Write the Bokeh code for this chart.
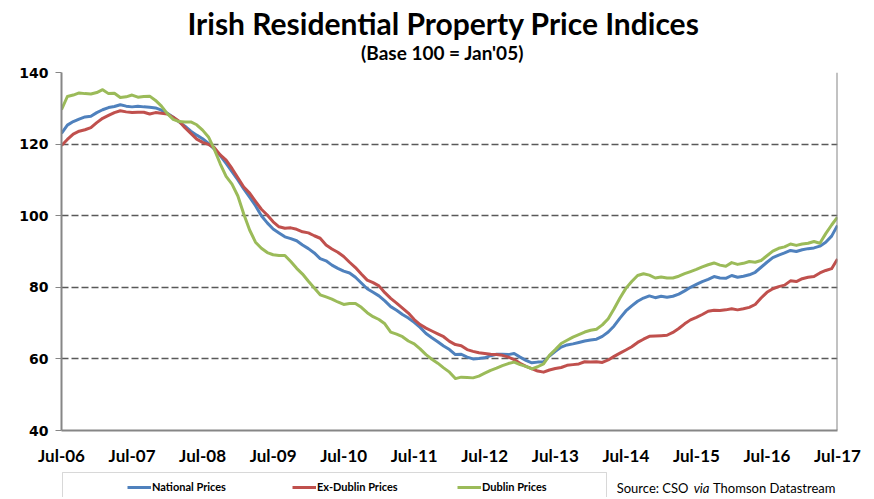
from bokeh.plotting import figure
from bokeh.layouts import column
from bokeh.models import (Range1d, FixedTicker, Label, Legend, LegendItem, Span,
                          BoxAnnotation)
from bokeh.embed import file_html
from bokeh.resources import INLINE

# Monthly index values, Jul-06 (month 0) to Jul-17 (month 132)
months = list(range(133))
x_ticks = [0, 12, 24, 36, 48, 60, 72, 84, 96, 108, 120, 132]
x_tick_labels = ["Jul-06", "Jul-07", "Jul-08", "Jul-09", "Jul-10", "Jul-11",
                 "Jul-12", "Jul-13", "Jul-14", "Jul-15", "Jul-16", "Jul-17"]
y_ticks = [40, 60, 80, 100, 120, 140]

national = [
    123.0, 125.3, 126.3, 127.0, 127.6, 127.8, 128.8, 129.6, 130.2, 130.5, 131.0, 130.6,
    130.4, 130.6, 130.4, 130.3, 130.1, 129.5, 128.6, 127.5, 126.2, 125.0, 123.6, 122.5,
    121.5, 120.2, 118.6, 116.8, 114.6, 112.3, 110.0, 107.5, 105.2, 102.8, 100.0, 98.0,
    96.3, 95.2, 94.1, 93.6, 93.0, 91.8, 90.8, 89.6, 88.0, 87.4, 86.2, 85.3,
    84.5, 84.0, 82.8, 81.2, 79.6, 78.6, 77.6, 76.2, 74.6, 73.6, 72.4, 71.4,
    70.2, 68.8, 67.1, 65.9, 64.8, 63.6, 62.6, 61.2, 61.3, 60.5, 60.0, 60.1,
    60.3, 60.9, 61.3, 61.3, 61.2, 61.5, 60.5, 59.6, 58.9, 59.1, 59.2, 60.8,
    62.1, 63.3, 63.9, 64.2, 64.6, 65.0, 65.3, 65.5, 66.3, 67.5, 69.2, 71.4,
    73.4, 74.8, 76.1, 77.0, 77.6, 77.1, 77.5, 77.2, 77.5, 78.1, 79.0, 80.0,
    80.8, 81.6, 82.2, 83.0, 82.6, 82.5, 83.3, 82.8, 83.1, 83.5, 84.2, 85.6,
    87.0, 88.3, 89.0, 89.6, 90.3, 90.0, 90.5, 90.8, 91.0, 91.5, 92.6, 94.3,
    97.3]

ex_dublin = [
    119.6, 121.3, 122.8, 123.6, 124.0, 124.6, 126.0, 127.2, 128.0, 128.8, 129.3, 129.0,
    128.8, 128.9, 128.9, 128.4, 128.8, 128.6, 128.4, 127.5, 126.4, 124.6, 123.0, 121.4,
    120.5, 119.9, 119.0, 117.0, 115.5, 113.2, 110.6, 108.0, 106.3, 104.0, 101.8, 100.2,
    98.3, 96.9, 96.5, 96.6, 96.2, 95.5, 95.2, 94.4, 93.7, 91.8, 90.7, 89.8,
    88.6, 87.0, 85.5, 83.7, 82.0, 81.3, 80.4, 78.5, 76.9, 75.6, 74.2, 72.8,
    71.0, 69.6, 68.6, 67.8, 67.0, 66.2, 64.9, 64.0, 63.7, 62.6, 62.1, 61.7,
    61.5, 61.3, 61.2, 61.0, 60.5, 59.8, 58.8, 57.9, 57.3, 56.6, 56.3, 56.9,
    57.3, 57.6, 58.2, 58.4, 58.6, 59.2, 59.1, 59.2, 59.0, 59.7, 60.7, 61.6,
    62.5, 63.4, 64.6, 65.5, 66.3, 66.4, 66.5, 66.6, 67.4, 68.5, 69.8, 70.9,
    71.6, 72.4, 73.3, 73.6, 73.5, 73.7, 74.0, 73.7, 74.0, 74.4, 75.2, 77.0,
    78.6, 79.6, 80.2, 80.6, 81.8, 81.6, 82.4, 82.8, 83.0, 84.0, 84.7, 85.2,
    87.9]

dublin = [
    129.6, 133.3, 133.7, 134.3, 134.1, 134.0, 134.4, 135.2, 134.1, 134.2, 133.0, 133.2,
    133.7, 133.1, 133.3, 133.4, 132.2, 130.6, 128.5, 126.9, 126.3, 126.2, 126.2, 125.4,
    123.9, 122.0, 118.5, 114.5, 111.0, 108.8, 105.5, 100.5, 96.0, 92.6, 90.9, 89.7,
    89.1, 88.9, 88.9, 87.2, 85.3, 83.7, 81.7, 79.8, 77.9, 77.3, 76.7, 75.9,
    75.2, 75.5, 75.5, 74.4, 72.9, 71.8, 71.0, 69.8, 67.5, 66.9, 66.2, 65.0,
    64.2, 62.8, 61.2, 59.9, 58.8, 57.5, 56.3, 54.5, 54.9, 54.8, 54.7, 55.2,
    56.0, 56.8, 57.4, 58.1, 58.7, 59.1, 58.4, 57.9, 57.2, 57.8, 58.6, 61.0,
    62.6, 64.3, 65.2, 66.1, 66.8, 67.5, 68.0, 68.3, 69.5, 71.2, 74.0, 77.0,
    79.7, 81.6, 83.3, 83.8, 83.4, 82.6, 82.9, 82.6, 82.6, 83.1, 83.8, 84.4,
    85.0, 85.7, 86.3, 86.8, 86.2, 85.9, 86.9, 86.4, 86.7, 87.2, 87.0, 87.5,
    88.8, 90.1, 90.9, 91.3, 92.1, 91.7, 92.1, 92.3, 92.8, 92.3, 95.0, 97.4,
    99.6]

series = [national, ex_dublin, dublin]
series_names = ["National Prices", "Ex-Dublin Prices", "Dublin Prices"]
series_colors = ["#4F81BD", "#C0504D", "#9BBB59"]

FONT = "Lato"
W = 866
LEFT = 61
RIGHT = W - 837


def strip(height):
    f = figure(width=W, height=height, output_backend="svg", toolbar_location=None,
               x_range=Range1d(0, 1), y_range=Range1d(0, 1),
               min_border_left=LEFT, min_border_right=RIGHT,
               min_border_top=0, min_border_bottom=0,
               x_axis_location=None, y_axis_location=None, title=None)
    f.outline_line_color = None
    f.xgrid.visible = False
    f.ygrid.visible = False
    return f


# ---- top strip: title and subtitle ----
t = strip(64)
t.add_layout(Label(x=382, y=42, x_units="screen", y_units="screen",
                   text="Irish Residential Property Price Indices",
                   text_font=FONT, text_font_style="bold", text_font_size="30px",
                   text_align="center", text_baseline="middle", text_color="black"))
t.add_layout(Label(x=381, y=12, x_units="screen", y_units="screen",
                   text="(Base 100 = Jan'05)",
                   text_font=FONT, text_font_style="bold", text_font_size="19px",
                   text_align="center", text_baseline="middle", text_color="black"))

# ---- main chart ----
p = figure(width=W, height=404, output_backend="svg", toolbar_location=None,
           x_range=Range1d(0, 132), y_range=Range1d(40, 140),
           min_border_left=LEFT, min_border_right=RIGHT, min_border_top=8,
           min_border_bottom=38, title=None)
p.outline_line_color = None

p.xgrid.visible = False
p.ygrid.ticker = FixedTicker(ticks=[60, 80, 100, 120, 140])
p.ygrid.grid_line_color = "#595959"
p.ygrid.grid_line_dash = "7 3"
p.ygrid.grid_line_width = 1.4

p.yaxis.ticker = FixedTicker(ticks=y_ticks)
p.yaxis.axis_line_color = "#868686"
p.yaxis.axis_line_width = 2
p.yaxis.major_tick_line_color = "#868686"
p.yaxis.major_tick_out = 6
p.yaxis.major_tick_in = 0
p.yaxis.minor_tick_line_color = None
p.yaxis.major_label_standoff = 7
p.yaxis.major_label_text_font = "DejaVu Sans"
p.yaxis.major_label_text_font_style = "bold"
p.yaxis.major_label_text_font_size = "14px"
p.yaxis.major_label_text_color = "black"

p.xaxis.ticker = FixedTicker(ticks=x_ticks)
p.xaxis.major_label_overrides = {t_: lab for t_, lab in zip(x_ticks, x_tick_labels)}
p.xaxis.axis_line_color = "#868686"
p.xaxis.axis_line_width = 2
p.xaxis.major_tick_line_color = None
p.xaxis.minor_tick_line_color = None
p.xaxis.major_tick_out = 0
p.xaxis.major_label_standoff = 14
p.xaxis.major_label_text_font = FONT
p.xaxis.major_label_text_font_style = "bold"
p.xaxis.major_label_text_font_size = "17px"
p.xaxis.major_label_text_color = "black"

p.add_layout(Span(location=132, dimension="height", line_color="#868686", line_width=2))

for ys, col in zip(series, series_colors):
    p.line(months, ys, line_color=col, line_width=3, line_join="round")

# ---- bottom strip: legend and source note ----
b = strip(29)
# series renderers for the legend (their data lie outside this strip's view)
leg_renderers = [b.line(months, ys, line_color=col, line_width=3)
                 for ys, col in zip(series, series_colors)]

b.add_layout(BoxAnnotation(left=1, right=545, bottom=-10, top=25,
                           left_units="screen", right_units="screen",
                           bottom_units="screen", top_units="screen",
                           fill_color="white", fill_alpha=1,
                           line_color="#7F7F7F", line_width=1))

legend = Legend(items=[LegendItem(label=n, renderers=[r])
                       for n, r in zip(series_names, leg_renderers)],
                orientation="horizontal", location=(66, 4),
                glyph_width=24, glyph_height=12, label_height=12, label_width=140,
                label_standoff=1, spacing=0, padding=0, margin=0,
                label_text_font=FONT, label_text_font_style="bold",
                label_text_font_size="11px", label_text_color="black",
                border_line_color=None, background_fill_alpha=0)
b.add_layout(legend)

for txt, xx, style in [("Source: CSO", 627, "normal"), ("via", 648, "italic"),
                       ("Thomson Datastream", 774, "normal")]:
    b.add_layout(Label(x=xx, y=10, x_units="screen", y_units="screen", text=txt,
                       text_font=FONT, text_font_size="13px", text_font_style=style,
                       text_align="right", text_baseline="middle", text_color="black"))

layout = column(t, p, b, spacing=0)
open("out.html", "w").write(file_html(layout, INLINE))
